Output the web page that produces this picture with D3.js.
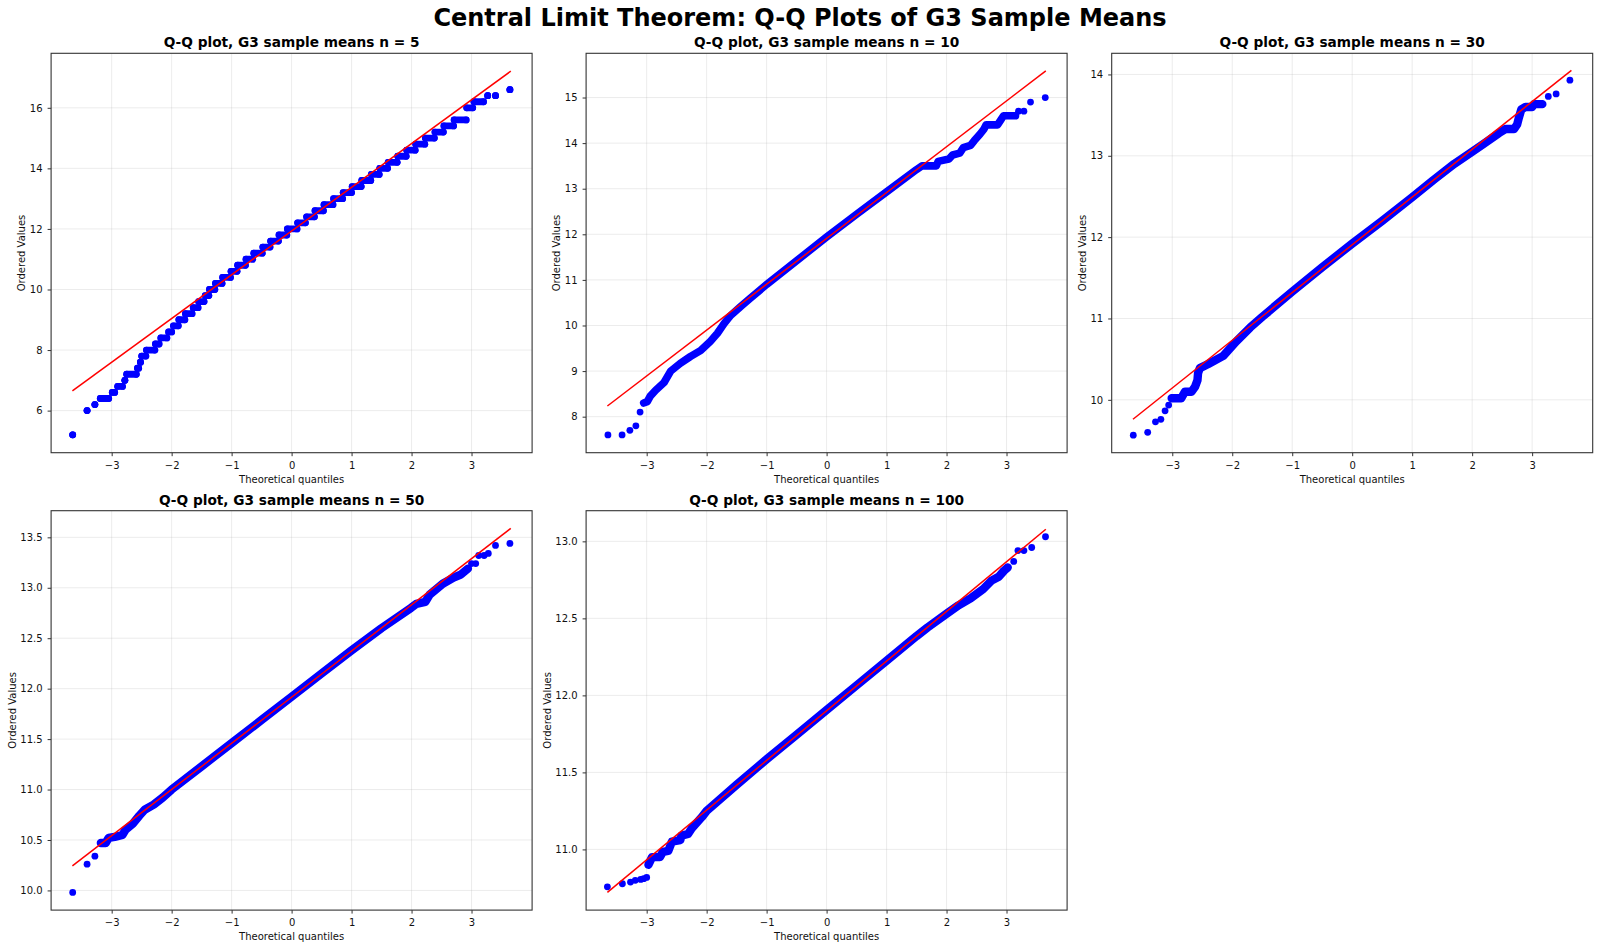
<!DOCTYPE html>
<html>
<head>
<meta charset="utf-8">
<script src="https://cdn.jsdelivr.net/npm/d3@7"></script>
<style>
  html, body { margin: 0; padding: 0; background: #ffffff; }
  svg { display: block; }
  text { font-family: "DejaVu Sans", "Liberation Sans", sans-serif; }
</style>
</head>
<body>
<svg id="chart" width="1600" height="949"></svg>
<script>
// ---------------- DATA ----------------
const chartTitle = "Central Limit Theorem: Q-Q Plots of G3 Sample Means";
const sampleSizes = [5, 10, 30, 50, 100];
const xAxisLabel = "Theoretical quantiles";
const yAxisLabel = "Ordered Values";
const xTickValues = [-3, -2, -1, 0, 1, 2, 3];
const yTicks1 = [6, 8, 10, 12, 14, 16];
const yTicks2 = [8, 9, 10, 11, 12, 13, 14, 15];
const yTicks3 = [10, 11, 12, 13, 14];
const yTicks4 = [10.0, 10.5, 11.0, 11.5, 12.0, 12.5, 13.0, 13.5];
const yTicks5 = [11.0, 11.5, 12.0, 12.5, 13.0];

// fitted reference lines (slope, intercept), drawn between the extreme theoretical quantiles
const fitSlope = [1.445, 1.0055, 0.5868, 0.4578, 0.3225];
const fitIntercept = [11.93, 11.91, 11.906, 11.916, 11.90];
const fitXRange = [-3.655, 3.655];

// n = 5 : runs of identical ordered values (level, first quantile, last quantile)
const p1Level = [5.2, 6.0, 6.2, 6.4, 6.6, 6.8, 7.0, 7.2, 7.4, 7.6, 7.8, 8.0, 8.2, 8.4, 8.6, 8.8, 9.0, 9.2, 9.4, 9.6, 9.8, 10.0, 10.2, 10.4, 10.6, 10.8, 11.0, 11.2, 11.4, 11.6, 11.8, 12.0, 12.2, 12.4, 12.6, 12.8, 13.0, 13.2, 13.4, 13.6, 13.8, 14.0, 14.2, 14.4, 14.6, 14.8, 15.0, 15.2, 15.4, 15.6, 16.0, 16.2, 16.4, 16.4, 16.6];
const p1Start = [-3.65, -3.41, -3.28, -3.19, -2.99, -2.90, -2.78, -2.75, -2.57, -2.52, -2.50, -2.42, -2.27, -2.18, -2.05, -1.97, -1.88, -1.77, -1.64, -1.55, -1.44, -1.37, -1.27, -1.15, -1.01, -0.90, -0.76, -0.63, -0.48, -0.35, -0.21, -0.07, 0.10, 0.25, 0.39, 0.54, 0.70, 0.86, 1.01, 1.17, 1.33, 1.47, 1.61, 1.77, 1.92, 2.07, 2.23, 2.39, 2.54, 2.71, 2.92, 3.04, 3.27, 3.40, 3.64];
const p1End = [-3.65, -3.41, -3.28, -3.05, -2.95, -2.82, -2.78, -2.59, -2.55, -2.52, -2.43, -2.28, -2.21, -2.08, -2.00, -1.89, -1.78, -1.66, -1.56, -1.46, -1.38, -1.28, -1.16, -1.02, -0.91, -0.77, -0.65, -0.49, -0.36, -0.22, -0.08, 0.09, 0.23, 0.38, 0.53, 0.69, 0.85, 1.00, 1.16, 1.32, 1.46, 1.60, 1.76, 1.91, 2.06, 2.22, 2.38, 2.53, 2.70, 2.91, 3.02, 3.20, 3.27, 3.40, 3.64];

// n = 10 : isolated tail points and the dense band of points
const p2DotX = [-3.646, -3.41, -3.28, -3.18, -3.11, 3.20, 3.29, 3.40, 3.646];
const p2DotY = [7.6, 7.6, 7.7, 7.8, 8.1, 14.7, 14.7, 14.9, 15.0];
const p2BandX = [-3.05, -2.99, -2.94, -2.85, -2.71, -2.60, -2.44, -2.27, -2.10, -1.94, -1.82, -1.71, -1.60, -1.43, -1.27, -1.0, -0.5, 0, 0.5, 1.0, 1.5, 1.59, 1.83, 1.86, 2.04, 2.10, 2.22, 2.28, 2.40, 2.46, 2.56, 2.62, 2.66, 2.85, 2.90, 2.95, 3.15];
const p2BandY = [8.3, 8.33, 8.45, 8.58, 8.75, 9.0, 9.17, 9.32, 9.45, 9.65, 9.83, 10.04, 10.22, 10.42, 10.60, 10.90, 11.42, 11.94, 12.44, 12.93, 13.42, 13.5, 13.5, 13.6, 13.65, 13.74, 13.78, 13.9, 13.95, 14.05, 14.2, 14.3, 14.4, 14.4, 14.5, 14.6, 14.6];

// n = 30
const p3DotX = [-3.65, -3.41, -3.28, -3.19, -3.12, -3.06, 3.27, 3.40, 3.63];
const p3DotY = [9.565, 9.60, 9.73, 9.76, 9.865, 9.935, 13.73, 13.76, 13.93];
const p3BandX = [-3.01, -2.85, -2.79, -2.68, -2.62, -2.58, -2.57, -2.54, -2.40, -2.15, -1.93, -1.70, -1.50, -1.0, -0.5, 0, 0.5, 1.0, 1.35, 1.70, 2.0, 2.2, 2.45, 2.56, 2.70, 2.75, 2.78, 2.82, 2.89, 3.0, 3.03, 3.17];
const p3BandY = [10.02, 10.02, 10.10, 10.10, 10.16, 10.24, 10.33, 10.39, 10.44, 10.54, 10.72, 10.89, 11.02, 11.33, 11.63, 11.92, 12.20, 12.49, 12.70, 12.90, 13.05, 13.15, 13.28, 13.33, 13.33, 13.385, 13.47, 13.57, 13.60, 13.60, 13.635, 13.635];

// n = 50
const p4DotX = [-3.65, -3.41, -3.28, 3.00, 3.07, 3.12, 3.21, 3.28, 3.40, 3.64];
const p4DotY = [9.98, 10.26, 10.34, 13.24, 13.24, 13.32, 13.32, 13.34, 13.42, 13.44];
const p4BandX = [-3.18, -3.10, -3.05, -2.95, -2.82, -2.77, -2.65, -2.54, -2.45, -2.30, -2.15, -2.0, -1.5, -1.0, -0.5, 0, 0.5, 1.0, 1.5, 1.99, 2.08, 2.23, 2.30, 2.52, 2.70, 2.82, 2.88, 2.94];
const p4BandY = [10.47, 10.47, 10.52, 10.53, 10.55, 10.60, 10.66, 10.74, 10.80, 10.85, 10.92, 11.0, 11.23, 11.46, 11.69, 11.92, 12.15, 12.38, 12.60, 12.80, 12.84, 12.86, 12.93, 13.04, 13.10, 13.13, 13.16, 13.19];

// n = 100
const p5DotX = [-3.655, -3.405, -3.27, -3.19, -3.10, -3.05, -3.00, 3.12, 3.19, 3.29, 3.42, 3.65];
const p5DotY = [10.757, 10.777, 10.788, 10.799, 10.805, 10.81, 10.818, 12.87, 12.94, 12.94, 12.96, 13.03];
const p5BandX = [-2.97, -2.91, -2.78, -2.73, -2.64, -2.58, -2.44, -2.42, -2.31, -2.25, -2.08, -2.0, -1.5, -1.0, -0.5, 0, 0.5, 1.0, 1.5, 1.68, 2.0, 2.2, 2.4, 2.61, 2.75, 2.87, 2.96, 3.02];
const p5BandY = [10.90, 10.95, 10.95, 10.984, 10.99, 11.05, 11.06, 11.09, 11.10, 11.136, 11.21, 11.25, 11.42, 11.585, 11.745, 11.905, 12.065, 12.225, 12.385, 12.44, 12.53, 12.585, 12.63, 12.69, 12.745, 12.77, 12.81, 12.83];

// ---------------- LAYOUT ----------------
const W = 1600, H = 949;
const frameW = 481, frameH = 399.4;
const xDomain = [-4.01, 4.01];
const panels = [
  { left: 51.1,   top: 53.3,  yDomain: [4.61, 17.8],    yTicks: yTicks1, fmt: d3.format("d"),
    runs: { level: p1Level, start: p1Start, end: p1End } },
  { left: 586.1,  top: 53.3,  yDomain: [7.21, 15.97],   yTicks: yTicks2, fmt: d3.format("d"),
    dots: { x: p2DotX, y: p2DotY }, band: { x: p2BandX, y: p2BandY }, bandW: 7.6 },
  { left: 1111.7, top: 53.3,  yDomain: [9.35, 14.26],   yTicks: yTicks3, fmt: d3.format("d"),
    dots: { x: p3DotX, y: p3DotY }, band: { x: p3BandX, y: p3BandY }, bandW: 8.4 },
  { left: 51.1,   top: 510.7, yDomain: [9.805, 13.764], yTicks: yTicks4, fmt: d3.format(".1f"),
    dots: { x: p4DotX, y: p4DotY }, band: { x: p4BandX, y: p4BandY }, bandW: 8.4 },
  { left: 586.1,  top: 510.7, yDomain: [10.606, 13.199], yTicks: yTicks5, fmt: d3.format(".1f"),
    dots: { x: p5DotX, y: p5DotY }, band: { x: p5BandX, y: p5BandY }, bandW: 8.4 }
];
const R = 3.4;             // marker radius
const BLUE = "#0000ff", RED = "#ff0000", FRAME = "#333333";

const svg = d3.select("#chart");
svg.append("rect").attr("width", W).attr("height", H).attr("fill", "#ffffff");

svg.append("text")
  .attr("x", 800).attr("y", 26)
  .attr("text-anchor", "middle")
  .attr("font-size", 24).attr("font-weight", "bold")
  .attr("fill", "#000")
  .text(chartTitle);

panels.forEach((p, i) => {
  const g = svg.append("g").attr("transform", `translate(${p.left},${p.top})`);
  const x = d3.scaleLinear().domain(xDomain).range([0, frameW]);
  const y = d3.scaleLinear().domain(p.yDomain).range([frameH, 0]);

  // grid
  const grid = g.append("g");
  grid.selectAll("line.gx").data(xTickValues).join("line")
    .attr("x1", d => x(d)).attr("x2", d => x(d)).attr("y1", 0).attr("y2", frameH)
    .attr("stroke", "#b0b0b0").attr("stroke-opacity", 0.3).attr("stroke-width", 0.8);
  grid.selectAll("line.gy").data(p.yTicks).join("line")
    .attr("y1", d => y(d)).attr("y2", d => y(d)).attr("x1", 0).attr("x2", frameW)
    .attr("stroke", "#b0b0b0").attr("stroke-opacity", 0.3).attr("stroke-width", 0.8);

  const pts = g.append("g");
  if (p.runs) {
    const idx = d3.range(p.runs.level.length);
    pts.selectAll("line.run").data(idx).join("line")
      .attr("x1", k => x(p.runs.start[k])).attr("x2", k => x(p.runs.end[k]))
      .attr("y1", k => y(p.runs.level[k])).attr("y2", k => y(p.runs.level[k]))
      .attr("stroke", BLUE).attr("stroke-width", 2 * R).attr("stroke-linecap", "round");
    pts.selectAll("circle.s").data(idx).join("circle")
      .attr("cx", k => x(p.runs.start[k])).attr("cy", k => y(p.runs.level[k])).attr("r", R).attr("fill", BLUE);
    pts.selectAll("circle.e").data(idx).join("circle")
      .attr("cx", k => x(p.runs.end[k])).attr("cy", k => y(p.runs.level[k])).attr("r", R).attr("fill", BLUE);
  }
  if (p.band) {
    const bandPts = p.band.x.map((v, k) => [v, p.band.y[k]]);
    pts.append("path").datum(bandPts)
      .attr("d", d3.line().x(d => x(d[0])).y(d => y(d[1])))
      .attr("fill", "none").attr("stroke", BLUE).attr("stroke-width", p.bandW)
      .attr("stroke-linecap", "round").attr("stroke-linejoin", "round");
  }
  if (p.dots) {
    const dotPts = p.dots.x.map((v, k) => [v, p.dots.y[k]]);
    pts.selectAll("circle.d").data(dotPts).join("circle")
      .attr("cx", d => x(d[0])).attr("cy", d => y(d[1])).attr("r", R).attr("fill", BLUE);
  }

  // fitted line
  g.append("line")
    .attr("x1", x(fitXRange[0])).attr("x2", x(fitXRange[1]))
    .attr("y1", y(fitSlope[i] * fitXRange[0] + fitIntercept[i]))
    .attr("y2", y(fitSlope[i] * fitXRange[1] + fitIntercept[i]))
    .attr("stroke", RED).attr("stroke-width", 1.5);

  // axes
  const ax = g.append("g").attr("transform", `translate(0,${frameH})`)
    .call(d3.axisBottom(x).tickValues(xTickValues).tickFormat(d3.format("d")).tickSize(3.5).tickPadding(5.3));
  const ay = g.append("g")
    .call(d3.axisLeft(y).tickValues(p.yTicks).tickFormat(p.fmt).tickSize(3.5).tickPadding(5));
  [ax, ay].forEach(a => {
    a.select(".domain").remove();
    a.selectAll("line").attr("stroke", FRAME).attr("stroke-width", 1);
    a.selectAll("text").attr("font-size", 10).attr("fill", "#111")
      .attr("font-family", '"DejaVu Sans", sans-serif');
  });

  // frame
  g.append("rect").attr("x", 0).attr("y", 0).attr("width", frameW).attr("height", frameH)
    .attr("fill", "none").attr("stroke", FRAME).attr("stroke-width", 1.1);

  // labels
  let maxW = 0;
  ay.selectAll("text").each(function () { maxW = Math.max(maxW, this.getBBox().width); });
  g.append("text")
    .attr("transform", `translate(${-maxW - 13.2},${frameH / 2}) rotate(-90)`)
    .attr("text-anchor", "middle").attr("font-size", 10).attr("fill", "#111")
    .text(yAxisLabel);
  g.append("text")
    .attr("x", frameW / 2).attr("y", frameH + 30)
    .attr("text-anchor", "middle").attr("font-size", 10).attr("fill", "#111")
    .text(xAxisLabel);
  g.append("text")
    .attr("x", frameW / 2).attr("y", -6)
    .attr("text-anchor", "middle").attr("font-size", 13.7).attr("font-weight", "bold").attr("fill", "#000")
    .text(`Q-Q plot, G3 sample means n = ${sampleSizes[i]}`);
});
</script>
</body>
</html>
